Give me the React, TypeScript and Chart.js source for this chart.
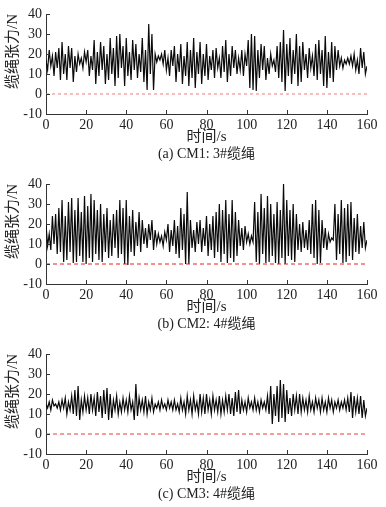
import React, { useEffect, useRef } from 'react';
import { Chart, registerables } from 'chart.js';

Chart.register(...registerables);

// sampling step of the tension records (s)
const SAMPLE_STEP_S = 0.8;
const TIME_MIN = 0;
const TIME_MAX = 160;
const TIME_STEP = 20;
const TENSION_MIN = -10;
const TENSION_MAX = 40;
const TENSION_STEP = 10;
const REFERENCE_LEVEL = 0;

const xTitle = '时间/s';
const yTitle = '缆绳张力/N';
const captions = ['(a) CM1: 3#缆绳', '(b) CM2: 4#缆绳', '(c) CM3: 4#缆绳'];

const tensionCM1 = [
  17, 12, 22, 14, 19, 9, 21, 13, 23, 7,
  26, 10, 20, 7, 24, 13, 23, 6, 19, 11,
  20, 15, 18, 13, 21, 16, 22, 9, 19, 12,
  27, 5, 21, 9, 26, 12, 24, 5, 20, 7,
  28, 10, 23, 4, 29, 8, 30, 13, 24, 4,
  28, 9, 21, 7, 27, 12, 25, 8, 20, 11,
  28, 6, 22, 2, 35, 10, 30, 2, 20, 16,
  19, 17, 20, 15, 22, 12, 18, 9, 22, 14,
  24, 6, 20, 11, 25, 5, 19, 9, 26, 4,
  22, 8, 28, 3, 21, 10, 26, 5, 20, 9,
  25, 7, 19, 12, 22, 8, 23, 13, 18, 8,
  24, 11, 27, 6, 20, 9, 24, 13, 22, 10,
  18, 12, 22, 9, 20, 14, 27, 3, 30, 2,
  29, 1.5, 22, 8, 25, 12, 24, 7, 18, 10,
  20, 14, 17, 11, 24, 8, 26, 6, 32, 1.5,
  25, 9, 28, 5, 22, 10, 30, 4, 24, 6,
  26, 12, 20, 8, 23, 13, 19, 9, 25, 7,
  27, 10, 22, 4, 29, 3, 21, 8, 26, 6,
  24, 12, 22, 14, 18, 13, 17, 15, 18, 15,
  19, 14, 20, 12, 17, 10, 23, 13, 21, 10,
  14,
];

const tensionCM2 = [
  20, 9, 15, 7, 24, 10, 25, 5, 28, 6,
  32, 1, 24, 2, 31, 6, 33, 0.5, 27, 1,
  33, 4, 26, 1, 34, 0, 29, 3, 35, 1,
  32, 5, 27, 2, 30, 1, 25, 6, 28, 3,
  22, 4, 25, 8, 27, 3, 32, 5, 28, 0,
  32, -0.5, 24, 6, 27, 4, 21, 9, 26, 6,
  22, 10, 18, 8, 20, 12, 22, 7, 17, 10,
  15, 11, 14, 9, 16, 12, 20, 6, 17, 9,
  22, 5, 19, 3, 28, 7, 25, 0, 36, 0,
  22, 8, 17, 6, 21, 10, 22, 6, 18, 9,
  24, 4, 20, 7, 24, 3, 26, 6, 30, 1,
  27, 5, 32, 0.5, 25, 3, 32, 1, 26, 4,
  22, 9, 18, 7, 19, 11, 15, 10, 14, 11,
  31, 1, 26, 0, 35, 5, 28, 0.5, 34, 1,
  30, 4, 25, 0.5, 31, 0, 27, 3, 40, 0,
  32, 4, 27, 2, 30, 1, 25, 7, 20, 6,
  21, 8, 17, 7, 22, 5, 30, 3, 32, 0,
  27, 0.5, 22, 8, 18, 7, 15, 11, 13, 12,
  30, 2, 25, 5, 32, 0.5, 28, 1, 30, 4,
  31, 2, 23, 6, 25, 5, 19, 8, 21, 8,
  12,
];

const tensionCM3 = [
  15, 13, 16, 12, 17, 14, 15, 13, 16, 12,
  17, 13, 18, 10, 16, 12, 19, 10, 22, 9,
  24, 7, 17, 11, 19, 12, 18, 10, 20, 12,
  18, 9, 21, 11, 19, 8, 22, 10, 23, 7,
  20, 8, 17, 12, 19, 10, 16, 11, 18, 12,
  17, 11, 19, 12, 16, 7, 25, 9, 18, 12,
  17, 11, 19, 10, 16, 12, 18, 11, 15, 13,
  16, 12, 17, 13, 15, 12, 17, 13, 16, 12,
  17, 12, 15, 11, 18, 12, 16, 10, 19, 12,
  17, 10, 19, 12, 16, 10, 20, 11, 18, 10,
  20, 12, 17, 10, 19, 12, 17, 11, 19, 10,
  17, 11, 19, 12, 20, 10, 18, 9, 21, 11,
  22, 10, 17, 12, 16, 11, 18, 13, 16, 12,
  18, 12, 16, 11, 17, 13, 16, 12, 19, 10,
  24, 5, 20, 9, 24, 6, 27, 8, 25, 6,
  22, 10, 18, 9, 20, 12, 19, 10, 20, 11,
  18, 12, 17, 11, 19, 12, 16, 11, 18, 13,
  17, 11, 18, 12, 16, 11, 18, 13, 17, 11,
  16, 13, 17, 12, 16, 13, 17, 12, 18, 11,
  21, 8, 19, 11, 18, 10, 19, 8, 17, 9,
  13,
];

const panels = [
  { values: tensionCM1, caption: captions[0], refColor: '#f27a7a', refDash: [3, 3] },
  { values: tensionCM2, caption: captions[1], refColor: '#f01e1e', refDash: [4, 3] },
  { values: tensionCM3, caption: captions[2], refColor: '#e83c3c', refDash: [4, 3] },
];

const SERIF = "'Liberation Serif', 'Noto Sans CJK SC', serif";
const AXIS_COLOR = '#333';

const inwardTicks = {
  id: 'inwardTicks',
  afterDraw(chart: any) {
    const { ctx, chartArea, scales } = chart;
    ctx.save();
    ctx.strokeStyle = AXIS_COLOR;
    ctx.lineWidth = 1;
    scales.x.ticks.forEach((t: any) => {
      const px = Math.round(scales.x.getPixelForValue(t.value)) + 0.5;
      ctx.beginPath();
      ctx.moveTo(px, chartArea.bottom);
      ctx.lineTo(px, chartArea.bottom - 4);
      ctx.stroke();
    });
    scales.y.ticks.forEach((t: any) => {
      const py = Math.round(scales.y.getPixelForValue(t.value)) + 0.5;
      ctx.beginPath();
      ctx.moveTo(chartArea.left, py);
      ctx.lineTo(chartArea.left + 4, py);
      ctx.stroke();
    });
    ctx.restore();
  },
};

function zeroPadding(scale: any) {
  scale.paddingLeft = 0;
  scale.paddingRight = 0;
  scale.paddingTop = 0;
  scale.paddingBottom = 0;
}

function Panel({ values, caption, refColor, refDash }: any) {
  const ref = useRef<HTMLCanvasElement | null>(null);
  useEffect(() => {
    if (!ref.current) return;
    const series = values.map((v: number, i: number) => ({ x: i * SAMPLE_STEP_S, y: v }));
    const chart = new Chart(ref.current, {
      type: 'line',
      data: {
        datasets: [
          {
            data: [
              { x: TIME_MIN, y: REFERENCE_LEVEL },
              { x: TIME_MAX, y: REFERENCE_LEVEL },
            ],
            borderColor: refColor,
            borderWidth: 1,
            borderDash: refDash,
            pointRadius: 0,
          },
          {
            data: series,
            borderColor: '#0a0a0a',
            borderWidth: 1.2,
            pointRadius: 0,
            tension: 0,
          },
        ],
      },
      options: {
        responsive: false,
        animation: false,
        events: [],
        layout: { padding: { top: 14, right: 19, left: 0, bottom: 0 } },
        plugins: {
          legend: { display: false },
          tooltip: { enabled: false },
          title: {
            display: true,
            text: caption,
            position: 'bottom',
            fullSize: false,
            color: '#222',
            font: { family: SERIF, size: 14, weight: 'normal' },
            padding: { top: 0, bottom: 7 },
          },
        },
        scales: {
          x: {
            type: 'linear',
            min: TIME_MIN,
            max: TIME_MAX,
            grid: { display: false, drawTicks: false },
            border: { display: true, color: AXIS_COLOR, width: 1 },
            ticks: {
              stepSize: TIME_STEP,
              autoSkip: false,
              maxRotation: 0,
              padding: 3,
              color: '#222',
              font: { family: SERIF, size: 14 },
            },
            title: {
              display: true,
              text: xTitle,
              color: '#222',
              font: { family: SERIF, size: 15 },
              padding: { top: 0, bottom: 0 },
            },
            afterFit: (scale: any) => {
              scale.height = 32.2;
              zeroPadding(scale);
            },
          },
          y: {
            type: 'linear',
            min: TENSION_MIN,
            max: TENSION_MAX,
            grid: { display: false, drawTicks: false },
            border: { display: true, color: AXIS_COLOR, width: 1 },
            ticks: {
              stepSize: TENSION_STEP,
              padding: 4,
              color: '#222',
              font: { family: SERIF, size: 14 },
            },
            title: {
              display: true,
              text: yTitle,
              align: 'end',
              color: '#222',
              font: { family: SERIF, size: 15 },
              padding: { top: 4, bottom: 0 },
            },
            afterFit: (scale: any) => {
              scale.width = 46;
              zeroPadding(scale);
            },
          },
        },
      },
      plugins: [inwardTicks],
    } as any);
    return () => chart.destroy();
  }, [values, caption, refColor, refDash]);
  return <canvas ref={ref} width={386} height={170} style={{ display: 'block', width: 386, height: 170 }} />;
}

export default function App() {
  return (
    <div
      style={{
        position: 'absolute',
        left: 0,
        top: 0,
        width: 386,
        height: 507,
        overflow: 'hidden',
        background: '#fff',
      }}
    >
      {panels.map((p, i) => (
        <Panel key={i} {...p} />
      ))}
    </div>
  );
}
